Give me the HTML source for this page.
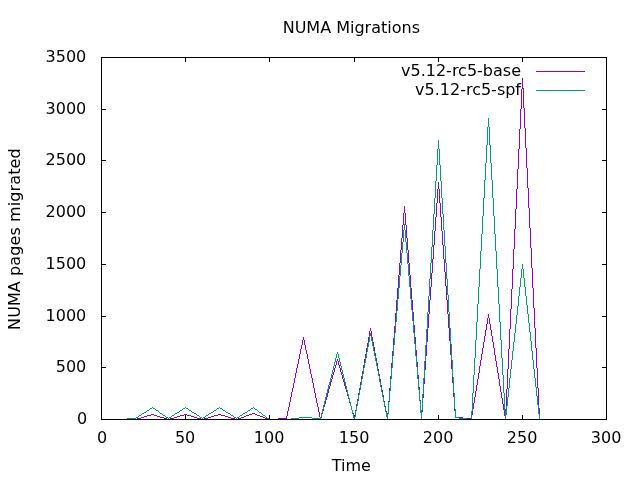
<!DOCTYPE html>
<html><head><meta charset="utf-8"><title>NUMA Migrations</title><style>
html,body{margin:0;padding:0;background:#fff;overflow:hidden;}
svg{display:block;}
text{font-family:"DejaVu Sans","Liberation Sans",sans-serif;font-size:16px;fill:#000;}
</style></head><body>
<svg width="640" height="480" viewBox="0 0 640 480">
<rect width="640" height="480" fill="#fff"/>
<text x="282.7" y="33">NUMA Migrations</text>
<text x="87.3" y="424" text-anchor="end">0</text>
<text x="86.3" y="372" text-anchor="end">500</text>
<text x="86.3" y="321" text-anchor="end">1000</text>
<text x="86.3" y="269" text-anchor="end">1500</text>
<text x="86.3" y="217" text-anchor="end">2000</text>
<text x="86.3" y="165" text-anchor="end">2500</text>
<text x="86.3" y="114" text-anchor="end">3000</text>
<text x="86.3" y="62" text-anchor="end">3500</text>
<text x="102" y="443" text-anchor="middle">0</text>
<text x="185.1" y="443" text-anchor="middle">50</text>
<text x="269.1" y="443" text-anchor="middle">100</text>
<text x="354.1" y="443" text-anchor="middle">150</text>
<text x="438.1" y="443" text-anchor="middle">200</text>
<text x="522.1" y="443" text-anchor="middle">250</text>
<text x="606.1" y="443" text-anchor="middle">300</text>
<text x="331.8" y="471">Time</text>
<text transform="translate(20,329.9) rotate(-90)" textLength="181.5" lengthAdjust="spacing">NUMA pages migrated</text>
<text x="521" y="75.5" text-anchor="end">v5.12-rc5-base</text>
<text x="521" y="94.5" text-anchor="end">v5.12-rc5-spf</text>
<g shape-rendering="crispEdges" fill="none" stroke-width="1">
<path stroke="#9400d3" d="M286.5 416v3M287.5 411v5M288.5 407v4M289.5 402v5M290.5 397v5M291.5 392v5M292.5 388v4M293.5 383v5M294.5 378v5M295.5 373v5M296.5 368v5M297.5 364v4M298.5 359v5M299.5 354v5M300.5 349v5M301.5 345v4M302.5 340v5M303.5 337v3M304.5 340v5M305.5 345v5M306.5 350v4M307.5 354v5M308.5 359v5M309.5 364v5M310.5 369v5M311.5 374v4M312.5 378v5M313.5 383v5M314.5 388v5M315.5 393v5M316.5 398v5M317.5 403v4M318.5 407v5M319.5 412v5M323.5 409v2M324.5 405v2M325.5 401v3M326.5 397v3M327.5 393v4M328.5 389v4M329.5 386v3M330.5 382v4M331.5 379v3M332.5 375v4M333.5 372v3M334.5 368v4M335.5 365v3M336.5 361v4M337.5 359v2M338.5 361v4M339.5 365v3M340.5 368v4M341.5 372v3M342.5 375v4M343.5 379v3M344.5 382v4M345.5 386v3M346.5 390v2M347.5 394v2M356.5 404v2M357.5 399v2M358.5 393v2M359.5 388v2M360.5 382v3M361.5 376v3M362.5 371v3M363.5 365v3M364.5 359v4M365.5 354v4M366.5 348v4M367.5 343v4M368.5 337v5M369.5 331v5M370.5 328v3M371.5 331v5M372.5 337v4M373.5 342v4M374.5 347v4M375.5 353v3M376.5 358v3M377.5 363v3M378.5 369v2M379.5 374v2M380.5 379v3M381.5 385v2M382.5 390v2M383.5 395v2M389.5 388v3M390.5 376v3M391.5 363v5M392.5 351v5M393.5 338v7M394.5 326v7M395.5 313v9M396.5 300v11M397.5 288v11M398.5 275v13M399.5 263v12M400.5 250v13M401.5 238v12M402.5 225v13M403.5 213v12M404.5 206v7M405.5 213v12M406.5 225v13M407.5 238v12M408.5 250v13M409.5 263v12M410.5 275v12M411.5 288v11M412.5 300v10M413.5 312v9M414.5 325v8M415.5 337v7M416.5 350v6M417.5 362v5M418.5 375v4M419.5 387v3M422.5 410v2M423.5 394v4M424.5 378v6M425.5 361v9M426.5 345v11M427.5 329v13M428.5 314v14M429.5 300v14M430.5 287v13M431.5 273v14M432.5 259v14M433.5 245v14M434.5 231v14M435.5 217v14M436.5 203v14M437.5 189v14M438.5 182v7M439.5 189v14M440.5 203v14M441.5 217v14M442.5 231v14M443.5 245v14M444.5 259v13M445.5 272v14M446.5 286v14M447.5 300v14M448.5 314v14M449.5 328v13M450.5 344v11M451.5 360v9M452.5 377v6M453.5 393v4M454.5 409v2M472.5 411v4M473.5 403v6M474.5 397v6M475.5 391v6M476.5 385v6M477.5 379v6M478.5 373v6M479.5 366v7M480.5 360v6M481.5 354v6M482.5 348v6M483.5 342v6M484.5 336v6M485.5 330v6M486.5 324v6M487.5 318v6M488.5 314v4M489.5 318v6M490.5 324v6M491.5 330v6M492.5 336v6M493.5 342v6M494.5 348v7M495.5 355v6M496.5 361v6M497.5 367v6M498.5 373v6M499.5 379v7M500.5 386v6M501.5 392v6M502.5 398v6M503.5 404v6M504.5 411v5M505.5 409v2M506.5 389v17M507.5 369v20M508.5 349v20M509.5 329v20M510.5 309v20M511.5 289v20M512.5 269v20M513.5 249v20M514.5 229v20M515.5 209v20M516.5 189v20M517.5 169v20M518.5 149v20M519.5 129v20M520.5 109v20M521.5 89v20M522.5 78v11M523.5 88v20M524.5 108v20M525.5 128v20M526.5 148v20M527.5 168v20M528.5 188v20M529.5 208v20M530.5 228v20M531.5 248v20M532.5 268v20M533.5 288v20M534.5 308v20M535.5 328v20M536.5 348v20M537.5 368v20M538.5 388v17M539.5 408v6M536 71.5h49M348 398.5h1M420 400.5h1M384 401.5h1M388 401.5h1M349 402.5h1M385 406.5h1M355 410.5h1M386 411.5h1M252 413.5h3M322 413.5h1M353 413.5h1M387 413.5h1M151 414.5h3M184 414.5h3M218 414.5h3M249 414.5h3M255 414.5h2M147 415.5h4M154 415.5h3M180 415.5h4M187 415.5h4M214 415.5h4M221 415.5h4M246 415.5h3M257 415.5h3M144 416.5h3M157 416.5h3M177 416.5h3M191 416.5h3M211 416.5h3M225 416.5h3M244 416.5h2M260 416.5h3M354 416.5h1M141 417.5h3M160 417.5h4M174 417.5h3M194 417.5h3M208 417.5h3M228 417.5h3M241 417.5h3M263 417.5h2M321 417.5h1M459 417.5h4M137 418.5h4M164 418.5h3M170 418.5h4M197 418.5h4M204 418.5h4M231 418.5h4M238 418.5h3M265 418.5h2M278 418.5h8M467 418.5h4"/>
<path stroke="#009e73" d="M320.5 417v2M321.5 413v4M322.5 409v4M323.5 405v4M324.5 401v4M325.5 397v4M326.5 393v4M327.5 389v4M328.5 385v4M329.5 382v3M330.5 378v4M331.5 374v4M332.5 370v4M333.5 366v4M334.5 362v4M335.5 358v4M336.5 354v4M337.5 352v2M338.5 354v4M339.5 358v4M340.5 362v4M341.5 366v4M342.5 370v4M343.5 374v4M344.5 378v4M345.5 382v4M346.5 386v4M347.5 390v4M348.5 394v4M349.5 398v4M350.5 402v4M351.5 406v4M352.5 410v4M353.5 414v4M354.5 417v2M355.5 411v6M356.5 406v5M357.5 401v5M358.5 395v6M359.5 390v5M360.5 385v5M361.5 379v6M362.5 374v5M363.5 368v6M364.5 363v5M365.5 358v5M366.5 352v6M367.5 347v5M368.5 342v5M369.5 336v6M370.5 333v3M371.5 336v5M372.5 341v5M373.5 346v5M374.5 351v5M375.5 356v5M376.5 361v5M377.5 366v5M378.5 371v5M379.5 376v6M380.5 382v5M381.5 387v5M382.5 392v5M383.5 397v5M384.5 402v5M385.5 407v5M386.5 412v5M387.5 414v5M388.5 402v12M389.5 391v11M390.5 379v12M391.5 368v11M392.5 356v12M393.5 345v11M394.5 333v12M395.5 322v11M396.5 311v11M397.5 299v12M398.5 288v11M399.5 276v12M400.5 265v11M401.5 253v12M402.5 242v11M403.5 230v12M404.5 224v6M405.5 230v12M406.5 242v11M407.5 253v11M408.5 264v12M409.5 276v11M410.5 287v12M411.5 299v11M412.5 310v11M413.5 321v12M414.5 333v11M415.5 344v12M416.5 356v11M417.5 367v12M418.5 379v11M419.5 390v11M420.5 401v12M421.5 410v9M422.5 394v16M423.5 378v16M424.5 361v17M425.5 345v16M426.5 329v16M427.5 312v17M428.5 296v16M429.5 279v17M430.5 263v16M431.5 247v16M432.5 230v17M433.5 214v16M434.5 198v16M435.5 181v17M436.5 165v16M437.5 149v16M438.5 140v9M439.5 149v16M440.5 165v16M441.5 181v17M442.5 198v16M443.5 214v16M444.5 230v16M445.5 246v17M446.5 263v16M447.5 279v16M448.5 295v17M449.5 312v16M450.5 328v16M451.5 344v16M452.5 360v17M453.5 377v16M454.5 393v16M455.5 409v9M471.5 411v8M472.5 393v18M473.5 375v18M474.5 358v17M475.5 340v18M476.5 322v18M477.5 304v18M478.5 287v17M479.5 269v18M480.5 251v18M481.5 234v17M482.5 216v18M483.5 198v18M484.5 180v18M485.5 163v17M486.5 145v18M487.5 127v18M488.5 118v9M489.5 127v18M490.5 145v18M491.5 163v17M492.5 180v18M493.5 198v18M494.5 216v18M495.5 234v17M496.5 251v18M497.5 269v18M498.5 287v17M499.5 304v18M500.5 322v18M501.5 340v18M502.5 358v17M503.5 375v18M504.5 393v18M505.5 411v8M506.5 406v9M507.5 397v9M508.5 388v9M509.5 378v10M510.5 369v9M511.5 360v9M512.5 351v9M513.5 342v9M514.5 333v9M515.5 324v9M516.5 315v9M517.5 306v9M518.5 296v10M519.5 287v9M520.5 278v9M521.5 269v9M522.5 264v5M523.5 269v9M524.5 278v9M525.5 287v9M526.5 296v9M527.5 305v9M528.5 314v9M529.5 323v9M530.5 332v9M531.5 341v10M532.5 351v9M533.5 360v9M534.5 369v9M535.5 378v9M536.5 387v9M537.5 396v9M538.5 405v9M539.5 414v5M536 90.5h49M152 407.5h1M185 407.5h1M219 407.5h1M253 407.5h1M150 408.5h2M153 408.5h2M183 408.5h2M186 408.5h2M217 408.5h2M220 408.5h2M251 408.5h2M254 408.5h1M149 409.5h1M155 409.5h1M182 409.5h1M188 409.5h1M216 409.5h1M222 409.5h1M250 409.5h1M255 409.5h2M147 410.5h2M156 410.5h2M180 410.5h2M189 410.5h2M214 410.5h2M223 410.5h2M248 410.5h2M257 410.5h1M146 411.5h1M158 411.5h1M179 411.5h1M191 411.5h1M213 411.5h1M225 411.5h1M247 411.5h1M258 411.5h1M144 412.5h2M159 412.5h1M177 412.5h2M192 412.5h2M211 412.5h2M226 412.5h2M245 412.5h2M259 412.5h2M142 413.5h2M160 413.5h2M175 413.5h2M194 413.5h2M209 413.5h2M228 413.5h2M243 413.5h2M261 413.5h1M141 414.5h1M162 414.5h1M174 414.5h1M196 414.5h1M208 414.5h1M230 414.5h1M242 414.5h1M262 414.5h1M139 415.5h2M163 415.5h2M172 415.5h2M197 415.5h2M206 415.5h2M231 415.5h2M240 415.5h2M263 415.5h2M138 416.5h1M165 416.5h1M171 416.5h1M199 416.5h1M205 416.5h1M233 416.5h1M239 416.5h1M265 416.5h1M136 417.5h2M166 417.5h2M169 417.5h2M200 417.5h2M203 417.5h2M234 417.5h2M237 417.5h2M266 417.5h1M299 417.5h13M456 417.5h3M127 418.5h9M168 418.5h1M202 418.5h1M236 418.5h1M267 418.5h2M291 418.5h8M312 418.5h8M459 418.5h8"/>
<path stroke="#000" d="M101.5 57v363M185.5 57v5M185.5 415v5M269.5 57v5M269.5 415v5M354.5 57v5M438.5 57v5M438.5 415v5M522.5 57v5M522.5 415v5M606.5 57v363M102 57.5h83M186 57.5h83M270 57.5h84M355 57.5h83M439 57.5h83M523 57.5h83M102 109.5h4M602 109.5h4M102 160.5h4M602 160.5h4M102 212.5h4M602 212.5h4M102 264.5h4M602 264.5h4M102 316.5h4M602 316.5h4M102 367.5h4M602 367.5h4M354 415.5h1M102 419.5h83M186 419.5h83M270 419.5h168M439 419.5h83M523 419.5h83"/>
</g>
</svg>
</body></html>
